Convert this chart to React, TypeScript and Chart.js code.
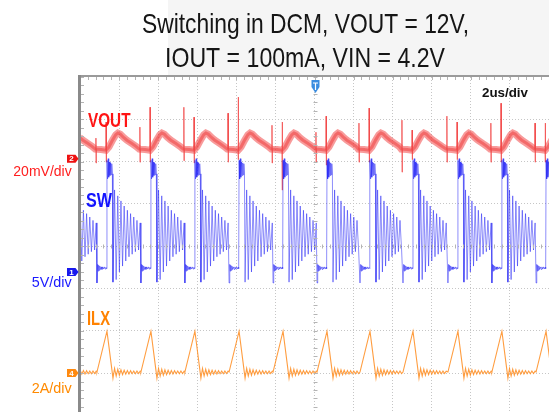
import React, { useEffect, useRef } from 'react';
import { Chart, registerables } from 'chart.js';
Chart.register(...registerables);

// ---------- text ----------
const TITLE_LINES = ['Switching in DCM, VOUT = 12V,', 'IOUT = 100mA, VIN = 4.2V'];
const TIMEBASE_LABEL = '2us/div';
const CHANNEL_NAMES = ['VOUT', 'SW', 'ILX'];
const CHANNEL_SCALES = ['20mV/div', '5V/div', '2A/div'];
const CHANNEL_NUMBERS = ['2', '1', '4'];

// ---------- axes (time in us, vertical in screen divisions) ----------
const X_MIN = -12;
const X_MAX = 12;
const Y_MIN = 0.08;
const Y_MAX = 8;
const X_GRID = [-10, -8, -6, -4, -2, 0, 2, 4, 6, 8, 10];
const Y_GRID = [1, 2, 3, 4, 5, 6, 7];

// channel scale (units per div) and ground marker position (div)
const VOUT_PER_DIV = 20; // mV
const SW_PER_DIV = 5; // V
const ILX_PER_DIV = 2; // A
const VOUT_OFFSET = 6.07;
const SW_OFFSET = 3.39;
const ILX_OFFSET = 1.0;

// ---------- data ----------
// switch turn-off instants (us), one per switching cycle
const EDGE_US = [-12.87, -10.62, -8.37, -6.12, -3.86, -1.61, 0.64, 2.84, 5.04, 7.34, 9.59, 11.85];

// VOUT ripple in one cycle (us from turn-off, mV)
const VOUT_T = [-0.6, -0.3, -0.05, 0.1, 0.3, 0.45, 0.56, 0.68, 0.85, 1.02, 1.28, 1.5];
const VOUT_MV = [4.5, 4.3, 4.0, 5.5, 9.0, 11.3, 12.1, 11.6, 10.0, 8.7, 7.1, 5.7];
// switching spikes on VOUT: instants relative to turn-off (us) and peaks per cycle (mV)
const SPIKE_ON_T = -0.565;
const SPIKE_OFF_T = -0.045;
const SPIKE_BASE_MV = [4.4, 4.0];
const VOUT_ON_UP = [15, 9.7, 14.9, 24.3, 21.5, 15.8, 12.5, 16.8, 18.2, 20.1, 16.8, 16.8];
const VOUT_ON_DN = [-1.7, -2.1, -1.7, -1.0, -1.7, -2.1, -1.7, -1.7, -6.4, -1.7, -1.7, -1.7];
const VOUT_OFF_UP = [18, 17.3, 24.3, 19.6, 29.1, 17.3, 20.1, 23.9, 13.5, 17.3, 26.2, 16.8];
const VOUT_OFF_DN = [-1.7, -1.7, -1.7, -2.1, -0.5, -14.9, -3.1, -1.7, -0.5, -0.5, -1.7, -1.7];

// SW node in one cycle (us from turn-off, V)
const SW_T = [
  -0.512, -0.476, -0.45, -0.425, -0.399, -0.368, -0.333, -0.297, -0.256, -0.215, -0.174, -0.133, -0.092, -0.051, -0.02,
  0, 0.031, 0.061, 0.092, 0.123, 0.154, 0.184, 0.215, 0.246, 0.276, 0.307,
  0.389, 0.471, 0.553, 0.635, 0.716, 0.798, 0.88, 0.962, 1.044, 1.126, 1.208, 1.289, 1.371, 1.453, 1.535, 1.617, 1.699,
];
const SW_V = [
  -1.3, 0.9, 0.1, 0.8, 0.2, 0.7, 0.3, 0.6, 0.3, 0.6, 0.35, 0.6, 0.35, 0.55, 0.4,
  13.2, 11.0, 13.4, 11.2, 13.0, 11.4, 12.9, 11.5, 12.8, 11.6, -1.2,
  9.7, -0.9, 9.0, 0.0, 8.4, 0.7, 7.8, 1.3, 7.3, 1.8, 6.9, 2.1, 6.5, 2.4, 6.1, 2.6, 5.8,
];

// inductor current in one cycle (us from turn-off, A)
const ILX_T = [
  -0.512, 0, 0.307,
  0.389, 0.471, 0.553, 0.635, 0.716, 0.798, 0.88, 0.962, 1.044, 1.126, 1.208, 1.289, 1.371, 1.453, 1.535, 1.617, 1.699,
];
const ILX_A = [
  0.05, 1.98, -0.24,
  0.22, -0.14, 0.18, -0.1, 0.15, -0.07, 0.13, -0.05, 0.12, -0.04, 0.11, -0.03, 0.1, -0.03, 0.1, -0.02, 0.09,
];

type Pt = { x: number; y: number | null };

function buildTrace(tmplT: number[], tmplV: number[], toDiv: (v: number) => number): Pt[] {
  const pts: Pt[] = [];
  EDGE_US.forEach((e, i) => {
    const limit = i + 1 < EDGE_US.length ? EDGE_US[i + 1] + tmplT[0] : Infinity;
    tmplT.forEach((t, k) => {
      const x = e + t;
      if (x >= limit) return;
      pts.push({ x, y: toDiv(tmplV[k]) });
    });
  });
  return pts;
}

function buildSpikes(toDiv: (v: number) => number): Pt[] {
  const pts: Pt[] = [];
  EDGE_US.forEach((e, i) => {
    const groups: [number, number, number, number][] = [
      [SPIKE_ON_T, VOUT_ON_UP[i], VOUT_ON_DN[i], SPIKE_BASE_MV[0]],
      [SPIKE_OFF_T, VOUT_OFF_UP[i], VOUT_OFF_DN[i], SPIKE_BASE_MV[1]],
    ];
    groups.forEach(([t, up, dn, base]) => {
      const x = e + t;
      pts.push({ x: x - 0.008, y: toDiv(base) });
      pts.push({ x, y: toDiv(up) });
      pts.push({ x: x + 0.01, y: toDiv(dn) });
      pts.push({ x: x + 0.02, y: toDiv(base) });
      pts.push({ x: x + 0.021, y: null });
    });
  });
  return pts;
}

const voutDiv = (mv: number) => VOUT_OFFSET + mv / VOUT_PER_DIV;
const swDiv = (v: number) => SW_OFFSET + v / SW_PER_DIV;
const ilxDiv = (a: number) => ILX_OFFSET + a / ILX_PER_DIV;

const FONT = "'Liberation Sans', Arial, sans-serif";

function fitText(
  ctx: CanvasRenderingContext2D,
  text: string,
  font: string,
  color: string,
  left: number,
  right: number,
  baseline: number
) {
  ctx.save();
  ctx.font = font;
  ctx.textAlign = 'left';
  ctx.textBaseline = 'alphabetic';
  const w = ctx.measureText(text).width;
  ctx.translate(left, baseline);
  ctx.scale((right - left) / w, 1);
  ctx.fillStyle = color;
  ctx.fillText(text, 0, 0);
  ctx.restore();
}

function marker(ctx: CanvasRenderingContext2D, y: number, color: string, label: string) {
  ctx.save();
  ctx.fillStyle = color;
  ctx.beginPath();
  ctx.moveTo(67, y - 4);
  ctx.lineTo(75.5, y - 4);
  ctx.lineTo(78.5, y);
  ctx.lineTo(75.5, y + 4);
  ctx.lineTo(67, y + 4);
  ctx.closePath();
  ctx.fill();
  ctx.fillStyle = '#ffffff';
  ctx.font = `bold 8px ${FONT}`;
  ctx.textAlign = 'center';
  ctx.textBaseline = 'middle';
  ctx.fillText(label, 71.5, y + 0.5);
  ctx.restore();
}

const scopePlugin = {
  id: 'scopeDecor',
  beforeDraw(chart: any) {
    const ctx: CanvasRenderingContext2D = chart.ctx;
    ctx.save();
    ctx.fillStyle = '#ffffff';
    ctx.fillRect(0, 0, chart.width, chart.height);
    ctx.fillStyle = '#f5f5f5';
    ctx.fillRect(168, 0, chart.width - 168, 75);
    ctx.restore();
  },
  afterDatasetsDraw(chart: any) {
    const ctx: CanvasRenderingContext2D = chart.ctx;
    const xs = chart.scales.x;
    const ys = chart.scales.y;
    const a = chart.chartArea;
    ctx.save();
    // minor ticks
    ctx.strokeStyle = '#b4b4b4';
    ctx.lineWidth = 1;
    const x0 = Math.round(xs.getPixelForValue(0)) + 0.5;
    const y4 = Math.round(ys.getPixelForValue(4)) + 0.5;
    for (let t = X_MIN; t <= X_MAX + 1e-6; t += 0.4) {
      const px = Math.round(xs.getPixelForValue(t)) + 0.5;
      ctx.beginPath();
      ctx.moveTo(px, a.top);
      ctx.lineTo(px, a.top + 3);
      ctx.moveTo(px, y4 - 2);
      ctx.lineTo(px, y4 + 2);
      ctx.stroke();
    }
    for (let v = 0.2; v <= Y_MAX + 1e-6; v += 0.2) {
      const py = Math.round(ys.getPixelForValue(v)) + 0.5;
      if (py > a.bottom) continue;
      ctx.beginPath();
      ctx.moveTo(a.left + 1, py);
      ctx.lineTo(a.left + 4, py);
      ctx.moveTo(x0 - 2, py);
      ctx.lineTo(x0 + 2, py);
      ctx.stroke();
    }
    // frame
    ctx.fillStyle = '#9a9a9a';
    ctx.fillRect(a.left - 2, a.top - 2, a.right - a.left + 2, 2);
    ctx.fillStyle = '#8a8a8a';
    ctx.fillRect(a.left - 2, a.top - 2, 3, a.bottom - a.top + 2);

    // trigger marker
    const tx = xs.getPixelForValue(0) + 1;
    ctx.fillStyle = '#3b8de0';
    ctx.beginPath();
    ctx.moveTo(tx - 4, 80);
    ctx.lineTo(tx + 4, 80);
    ctx.lineTo(tx + 4, 87);
    ctx.lineTo(tx, 93);
    ctx.lineTo(tx - 4, 87);
    ctx.closePath();
    ctx.fill();
    ctx.strokeStyle = '#ffffff';
    ctx.lineWidth = 1.2;
    ctx.beginPath();
    ctx.moveTo(tx - 2.5, 83);
    ctx.lineTo(tx + 2.5, 83);
    ctx.moveTo(tx, 83);
    ctx.lineTo(tx, 90);
    ctx.stroke();
    ctx.restore();

    // titles and labels
    fitText(ctx, TITLE_LINES[0], `28px ${FONT}`, '#151515', 142, 469, 33.3);
    fitText(ctx, TITLE_LINES[1], `28px ${FONT}`, '#151515', 165, 445, 66.8);
    fitText(ctx, TIMEBASE_LABEL, `bold 12.5px ${FONT}`, '#111111', 482, 528, 96.8);

    fitText(ctx, CHANNEL_NAMES[0], `bold 19.5px ${FONT}`, '#ff1414', 88, 130.5, 126.7);
    fitText(ctx, CHANNEL_NAMES[1], `bold 19.5px ${FONT}`, '#1414ff', 86, 112, 207);
    fitText(ctx, CHANNEL_NAMES[2], `bold 19.5px ${FONT}`, '#ff8200', 87, 110, 325);

    fitText(ctx, CHANNEL_SCALES[0], `15px ${FONT}`, '#ff1e1e', 13.3, 71.7, 176);
    fitText(ctx, CHANNEL_SCALES[1], `14.5px ${FONT}`, '#1a1aff', 31.7, 71.7, 287.3);
    fitText(ctx, CHANNEL_SCALES[2], `14.5px ${FONT}`, '#ff8a00', 31.7, 71.7, 392.7);

    marker(ctx, ys.getPixelForValue(VOUT_OFFSET), '#ee1111', CHANNEL_NUMBERS[0]);
    marker(ctx, ys.getPixelForValue(SW_OFFSET), '#1818ee', CHANNEL_NUMBERS[1]);
    marker(ctx, ys.getPixelForValue(ILX_OFFSET), '#ff8a10', CHANNEL_NUMBERS[2]);
  },
};

export default function App() {
  const ref = useRef<HTMLCanvasElement | null>(null);
  useEffect(() => {
    if (!ref.current) return;
    const vout = buildTrace(VOUT_T, VOUT_MV, voutDiv);
    const spikes = buildSpikes(voutDiv);
    const sw = buildTrace(SW_T, SW_V, swDiv);
    const ilx = buildTrace(ILX_T, ILX_A, ilxDiv);

    const chart = new Chart(ref.current, {
      type: 'line',
      data: {
        datasets: [
          { label: 'VOUT band', data: vout, borderColor: 'rgba(242,72,72,0.55)', borderWidth: 7, order: 4 },
          { label: 'VOUT', data: vout, borderColor: 'rgba(238,45,45,0.45)', borderWidth: 3, order: 3 },
          { label: 'VOUT spikes', data: spikes, borderColor: 'rgba(242,70,70,0.75)', borderWidth: 1, spanGaps: false, order: 2 },
          { label: 'SW', data: sw, borderColor: 'rgba(30,30,245,0.5)', borderWidth: 1, order: 1 },
          { label: 'ILX', data: ilx, borderColor: 'rgba(255,140,30,0.85)', borderWidth: 1.1, order: 0 },
        ] as any,
      },
      options: {
        animation: false,
        responsive: false,
        events: [],
        layout: { padding: { left: 80, top: 77, right: 0, bottom: 0 } },
        elements: { point: { radius: 0 }, line: { tension: 0, borderJoinStyle: 'miter' as any } },
        plugins: { legend: { display: false }, tooltip: { enabled: false }, title: { display: false } },
        scales: {
          x: {
            type: 'linear',
            min: X_MIN,
            max: X_MAX,
            afterBuildTicks: (s: any) => {
              s.ticks = X_GRID.map((v) => ({ value: v }));
            },
            ticks: { display: false },
            grid: { color: '#c6c6c6', lineWidth: 1, drawTicks: false },
            border: { display: false, dash: [1, 2] },
          },
          y: {
            type: 'linear',
            min: Y_MIN,
            max: Y_MAX,
            afterBuildTicks: (s: any) => {
              s.ticks = Y_GRID.map((v) => ({ value: v }));
            },
            ticks: { display: false },
            grid: { color: '#c6c6c6', lineWidth: 1, drawTicks: false },
            border: { display: false, dash: [1, 2] },
          },
        },
      } as any,
      plugins: [scopePlugin as any],
    });
    return () => chart.destroy();
  }, []);
  return (
    <div style={{ position: 'absolute', left: 0, top: 0, width: 549, height: 412 }}>
      <canvas ref={ref} width={549} height={412} style={{ display: 'block' }} />
    </div>
  );
}
